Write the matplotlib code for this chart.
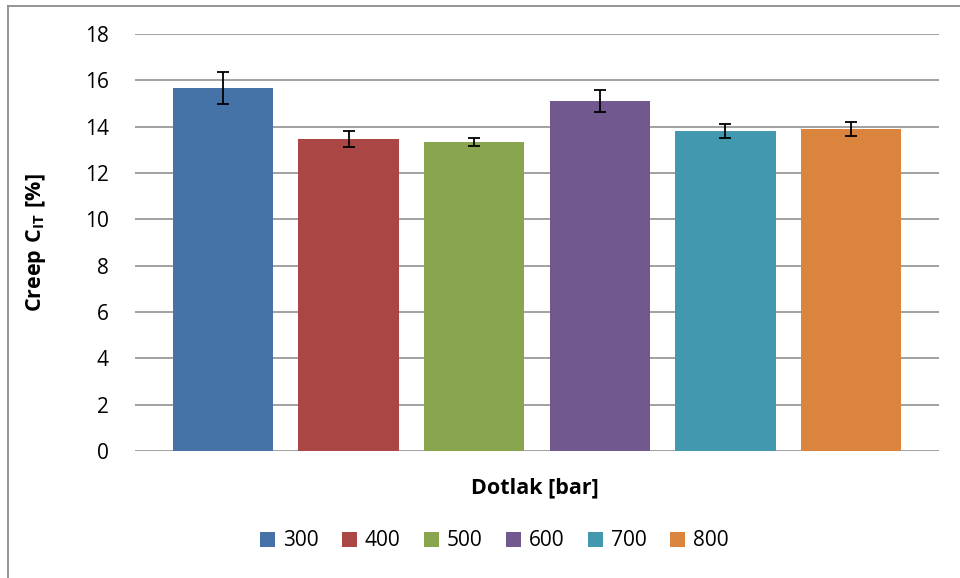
import matplotlib
matplotlib.use("Agg")
import matplotlib.pyplot as plt
from matplotlib.lines import Line2D
import numpy as np

categories = ["300", "400", "500", "600", "700", "800"]
values = [15.67, 13.47, 13.34, 15.11, 13.81, 13.90]
errors = [0.67, 0.35, 0.18, 0.49, 0.31, 0.32]
colors = ["#4572A7", "#AA4643", "#89A54E", "#71588F", "#4198AF", "#DB843D"]
yticks = [0, 2, 4, 6, 8, 10, 12, 14, 16, 18]

plt.rcParams['font.family'] = ['Open Sans', 'DejaVu Sans']
plt.rcParams['mathtext.fontset'] = 'custom'
plt.rcParams['mathtext.rm'] = 'Open Sans'
plt.rcParams['mathtext.bf'] = 'Open Sans:bold'

fig = plt.figure(figsize=(9.6, 5.78), dpi=100)
ax = fig.add_axes([135/960, 1-451/578, (939-135)/960, (451-34)/578])

x = np.arange(len(categories))
bars = ax.bar(x, values, width=0.80, color=colors, zorder=3)
ax.errorbar(x, values, yerr=errors, fmt='none', ecolor='black',
            elinewidth=1.3, capsize=4.3, capthick=1.3, zorder=4)

ax.set_xlim(-0.70, 5.70)
ax.set_ylim(0, 18)
ax.set_yticks(yticks)
ax.set_xticks([])
ax.tick_params(axis='y', length=0, labelsize=15, pad=19, colors='black')
for s in ax.spines.values():
    s.set_visible(False)
ax.yaxis.grid(True, color='#9a9a9a', linewidth=1.3, zorder=0)
ax.set_axisbelow(True)

fig.text(36/960, 1-243/578, r'$\mathbf{Creep\ C_{IT}\ [\%]}$', rotation=90,
         ha='center', va='center', fontsize=15.5)
fig.text(535/960, 1-488/578, 'Dotlak [bar]', ha='center', va='center',
         fontsize=15.5, fontweight='bold')

fig.legend(bars, categories, loc='center', bbox_to_anchor=(494/960, 1-541/578),
           ncol=6, frameon=False, fontsize=15, handlelength=0.72,
           handleheight=0.72, handletextpad=0.38, columnspacing=1.12)

fig.add_artist(Line2D([8/960, 8/960], [0, 1-5.5/578], transform=fig.transFigure,
                      color='#8c8c8c', linewidth=1.3))
fig.add_artist(Line2D([8/960, 1], [1-5.5/578, 1-5.5/578], transform=fig.transFigure,
                      color='#8c8c8c', linewidth=1.3))

fig.savefig("out.png", dpi=100)
